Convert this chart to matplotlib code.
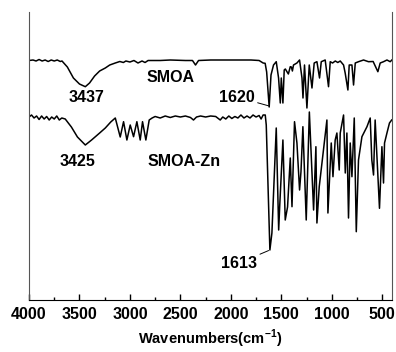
import matplotlib
matplotlib.use('Agg')
import matplotlib.pyplot as plt
from matplotlib.ticker import MultipleLocator

plt.rcParams['font.family'] = ['Liberation Sans', 'DejaVu Sans']
plt.rcParams['font.weight'] = 'bold'
plt.rcParams['mathtext.fontset'] = 'custom'
plt.rcParams['mathtext.rm'] = 'Liberation Sans'
plt.rcParams['mathtext.bf'] = 'Liberation Sans:bold'

# SMOA spectrum (wavenumber, transmittance in arbitrary units)
smoa_wn = [4000, 3960, 3930, 3900, 3870, 3840, 3810, 3780, 3750, 3720, 3690, 3673,
           3620, 3560, 3500, 3442, 3400, 3350, 3300, 3244, 3200, 3145, 3100, 3065,
           3040, 3000, 2960, 2920, 2880, 2850, 2820, 2700, 2600, 2450, 2380, 2350,
           2320, 2200, 2000, 1800, 1720, 1680, 1660, 1645, 1620, 1602, 1577, 1550,
           1527, 1510, 1500, 1484, 1471, 1460, 1444, 1430, 1411, 1400, 1390, 1379,
           1345, 1319, 1295, 1285, 1270, 1246, 1223, 1196, 1174, 1147, 1121, 1104,
           1065, 1032, 1015, 992, 965, 940, 916, 883, 867, 840, 827, 800, 784, 767,
           735, 685, 636, 590, 543, 520, 487, 453, 421, 404]
smoa_t = [239.5, 240, 239, 240.5, 239, 240, 238.5, 240, 239, 240, 238.5, 239,
          233, 222, 216, 213.3, 217, 224, 229, 232, 235, 237, 238.5, 237.5,
          239, 238, 239.5, 237, 239, 237.5, 239.5, 239.5, 240, 239.5, 239.5, 235,
          239.5, 240, 240, 240, 239.5, 237, 236.7, 228, 193, 225, 235, 238.3,
          222, 197, 222, 197, 230, 231, 228.3, 226, 233.3, 233, 229, 235,
          237, 240, 222, 202, 235, 192, 235, 212, 237, 238.3, 222, 238.3,
          240, 213.3, 238.3, 237, 239, 237.5, 239, 235, 227, 210, 235, 235, 215, 237,
          238.3, 240, 238.3, 238.5, 228.3, 237, 238.3, 240, 238.3, 240]

# SMOA-Zn spectrum
zn_wn = [4000, 3975, 3950, 3925, 3900, 3875, 3850, 3825, 3800, 3775, 3750, 3725,
         3700, 3675, 3641, 3580, 3520, 3442, 3380, 3300, 3244, 3190, 3145, 3096,
         3063, 3030, 2997, 2964, 2931, 2898, 2875, 2842, 2809, 2780, 2750, 2700,
         2650, 2600, 2550, 2500, 2450, 2400, 2370, 2340, 2300, 2250, 2200, 2150,
         2105, 2080, 2050, 2020, 1990, 1960, 1930, 1900, 1870, 1840, 1810, 1780,
         1750, 1720, 1700, 1680, 1659, 1649, 1613, 1593, 1550, 1526, 1516, 1484,
         1461, 1438, 1411, 1394, 1369, 1345, 1319, 1305, 1286, 1253, 1222, 1180,
         1157, 1147, 1124, 1048, 1038, 1005, 988, 966, 949, 926, 916, 883, 866,
         850, 834, 817, 800, 777, 757, 735, 701, 651, 619, 603, 586, 570, 527,
         503, 487, 477, 453, 428, 406]
zn_t = [183, 185, 182, 184, 180.5, 184, 181, 183.5, 180, 183, 181, 184,
        180, 182, 181, 173, 163, 155, 160, 167, 172, 178, 182, 163,
        178.3, 160, 175, 163.3, 178.3, 160, 178.3, 160, 180, 182, 183.5, 182,
        184, 182.5, 184, 183, 184, 182.5, 180, 183, 184, 183, 184, 183.5,
        180, 183, 181, 184, 181.5, 183.5, 182, 185, 182, 184, 182, 185,
        183, 184.5, 181, 185, 185, 175, 50, 67, 172, 70, 93.3, 160,
        80, 93, 142, 93.3, 178.3, 157, 110, 128.3, 173.3, 80, 188, 90,
        153.3, 77, 113.3, 180, 87, 157, 123.3, 160, 167, 130, 167, 185, 127,
        167, 82, 157, 123.3, 182, 68.3, 140, 163.3, 173.3, 182, 140, 125, 180, 91.7,
        153.3, 117, 157, 167, 177, 180]

fig = plt.figure(figsize=(3.96, 3.52), dpi=100)
ax = fig.add_axes([29/396, 52/352, 363/396, 288/352])

ax.plot(smoa_wn, smoa_t, color='black', lw=1.1)
ax.plot(zn_wn, zn_t, color='black', lw=1.1)

ax.set_xlim(4000, 403)
ax.set_ylim(0, 288)
ax.xaxis.set_major_locator(MultipleLocator(500))
ax.xaxis.set_minor_locator(MultipleLocator(250))
ax.set_yticks([])
ax.tick_params(axis='x', which='major', direction='in', length=4, width=1,
               labelsize=11.5, pad=5)
ax.tick_params(axis='x', which='minor', direction='in', length=2, width=1)
for lab in ax.get_xticklabels():
    lab.set_fontweight('bold')
ax.spines['top'].set_visible(False)
for s in ['left', 'right']:
    ax.spines[s].set_color('#555555')
ax.set_xlabel(r'Wavenumbers(cm$^{\mathbf{-1}}$)', fontsize=10.5,
              fontweight='bold', labelpad=4)

tk = dict(fontsize=11.5, fontweight='bold', ha='center', va='center')
ax.text(3432, 202, '3437', **tk)
ax.text(2600, 223, 'SMOA', **tk)
ax.text(3520, 139, '3425', **tk)
ax.text(2460, 139, 'SMOA-Zn', **tk)
ax.annotate('1620', xy=(1620, 194), xytext=(1939, 203), fontsize=11.5,
            fontweight='bold', ha='center', va='center',
            arrowprops=dict(arrowstyle='-', lw=0.7, color='black',
                            shrinkA=15, shrinkB=0))
ax.annotate('1613', xy=(1613, 50), xytext=(1917, 37), fontsize=11.5,
            fontweight='bold', ha='center', va='center',
            arrowprops=dict(arrowstyle='-', lw=0.7, color='black',
                            shrinkA=16, shrinkB=1))

fig.savefig('out.png', dpi=100)
